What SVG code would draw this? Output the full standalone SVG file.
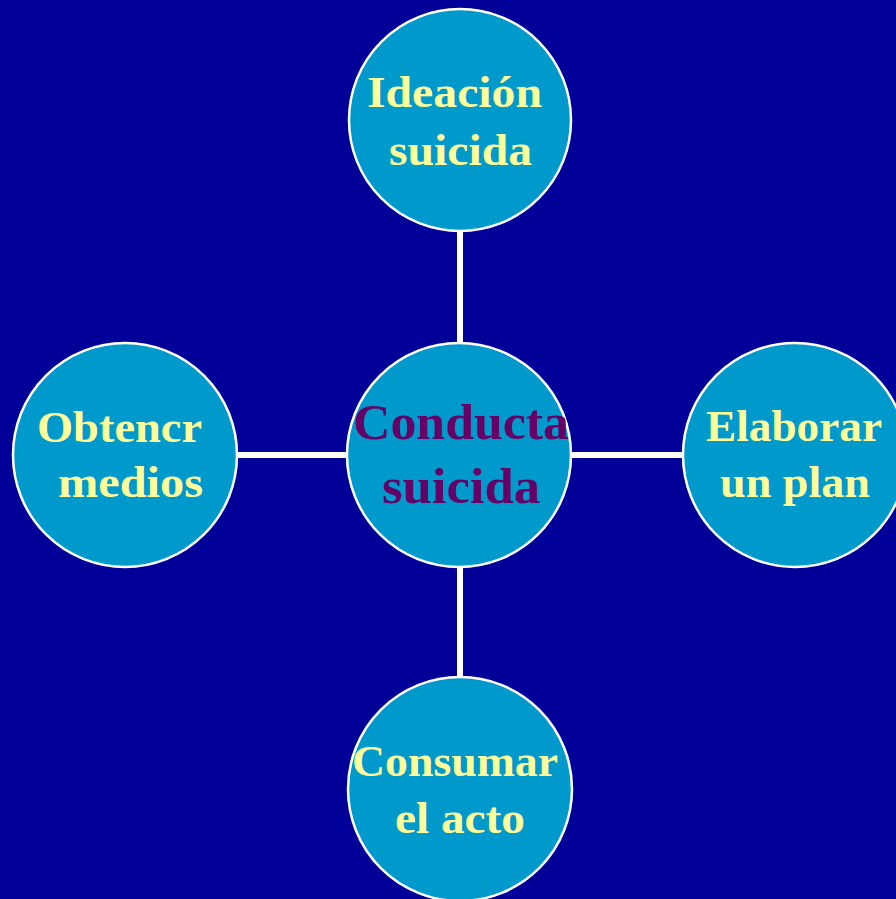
<svg xmlns="http://www.w3.org/2000/svg" width="896" height="899" viewBox="0 0 896 899">
<style>
.bg{fill:#000099}
.node{fill:#0099cc;stroke:#ffffff;stroke-width:2.5}
.lbl{font-family:"Liberation Serif","Times New Roman",serif;font-weight:bold;font-size:44px;fill:#ffff99}
.ctr{font-family:"Liberation Serif","Times New Roman",serif;font-weight:bold;font-size:50px;fill:#660066}
.conn{stroke:#ffffff;stroke-width:6;fill:none}
</style>
<rect class="bg" x="0" y="0" width="896" height="899"/>
<g id="connectors">
<line class="conn" x1="460" y1="231" x2="460" y2="343"/>
<line class="conn" x1="237" y1="455" x2="347" y2="455"/>
<line class="conn" x1="571" y1="455" x2="683" y2="455"/>
<line class="conn" x1="460" y1="567" x2="460" y2="677"/>
</g>
<g id="ideacion">
<circle class="node" cx="460" cy="120" r="111"/>
<text class="lbl" x="367" y="107" textLength="175" lengthAdjust="spacingAndGlyphs">Ideación</text>
<text class="lbl" x="389" y="165" textLength="143" lengthAdjust="spacingAndGlyphs">suicida</text>
</g>
<g id="conducta">
<circle class="node" cx="459" cy="455" r="112"/>
<text class="ctr" x="353" y="439" textLength="216" lengthAdjust="spacingAndGlyphs">Conducta</text>
<text class="ctr" x="382" y="503" textLength="158" lengthAdjust="spacingAndGlyphs">suicida</text>
</g>
<g id="obtencr">
<circle class="node" cx="125" cy="455" r="112"/>
<text class="lbl" x="37" y="442" textLength="165" lengthAdjust="spacingAndGlyphs">Obtencr</text>
<text class="lbl" x="58" y="497" textLength="145" lengthAdjust="spacingAndGlyphs">medios</text>
</g>
<g id="elaborar">
<circle class="node" cx="795" cy="455" r="112"/>
<text class="lbl" x="706" y="441" textLength="176" lengthAdjust="spacingAndGlyphs">Elaborar</text>
<text class="lbl" x="720" y="497" textLength="150" lengthAdjust="spacingAndGlyphs">un plan</text>
</g>
<g id="consumar">
<circle class="node" cx="460" cy="789" r="112"/>
<text class="lbl" x="352" y="776" textLength="206" lengthAdjust="spacingAndGlyphs">Consumar</text>
<text class="lbl" x="395" y="833" textLength="130" lengthAdjust="spacingAndGlyphs">el acto</text>
</g>
</svg>
